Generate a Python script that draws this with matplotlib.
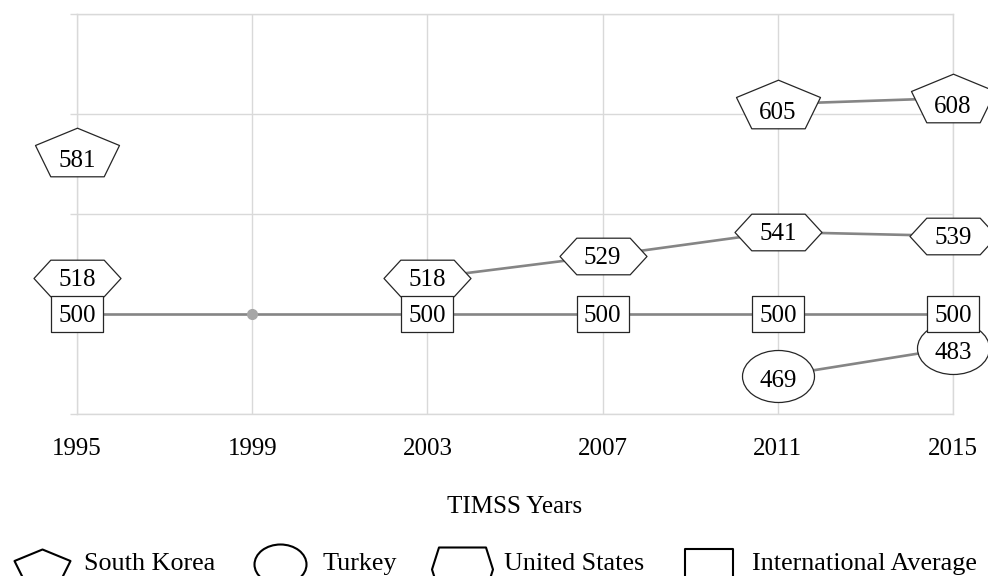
import numpy as np
import matplotlib
matplotlib.use('Agg')
import matplotlib.pyplot as plt
from matplotlib.path import Path
from matplotlib.lines import Line2D

plt.rcParams['font.family'] = ['Liberation Serif', 'DejaVu Serif']

# Data
years = ['1995', '1999', '2003', '2007', '2011', '2015']
south_korea = [581, np.nan, np.nan, np.nan, 605, 608]
turkey = [np.nan, np.nan, np.nan, np.nan, 469, 483]
united_states = [518, np.nan, 518, 529, 541, 539]
intl_average = [500, 500, 500, 500, 500, 500]
intl_boxed = [True, False, True, True, True, True]   # 1999 has only a dot

GRID = '#d9d9d9'
LINE = '#858585'
FS = 18
px = 0.72  # points per pixel at dpi 100


# Marker shapes, in pixels
def poly(pts, dy=0):
    pts = [(a, b + dy) for a, b in pts]
    pts = pts + [pts[0]]
    codes = [Path.MOVETO] + [Path.LINETO] * (len(pts) - 2) + [Path.CLOSEPOLY]
    return Path(pts, codes)


def ellipse(w, h, dy=0):
    c = Path.unit_circle()
    return Path(c.vertices * [w / 2, h / 2] + [0, dy], c.codes)


def size_of(path):
    # custom markers are scaled so the largest |coordinate| spans markersize/2
    return 2 * np.max(np.abs(path.vertices)) * px


pentagon = poly([(0, 24.3), (42, 7), (26.7, -24.3), (-26.7, -24.3), (-42, 7)])
hexagon = poly([(-26.7, 18.3), (26.7, 18.3), (43.5, 0), (26.7, -18.3), (-26.7, -18.3), (-43.5, 0)])
rect = poly([(-26.5, 18.3), (26.5, 18.3), (26.5, -18.3), (-26.5, -18.3)])
oval = ellipse(72, 52)

leg_pentagon = poly([(0, 16), (28, 4.5), (17.8, -16), (-17.8, -16), (-28, 4.5)], dy=-4)
leg_oval = ellipse(52, 40, dy=-3)
leg_hexagon = poly([(-23.5, 22), (23.5, 22), (30.5, 0), (23.5, -22), (-23.5, -22), (-30.5, 0)], dy=-8)
leg_square = poly([(-24.5, 24.5), (24.5, 24.5), (24.5, -24.5), (-24.5, -24.5)], dy=-12)

fig = plt.figure(figsize=(9.88, 5.76), dpi=100)
ax = fig.add_axes([77 / 988, 1 - 414 / 576, 876 / 988, 400 / 576])

x = np.arange(len(years))

series = [
    (south_korea, pentagon, -5),
    (turkey, oval, -2),
    (united_states, hexagon, 0),
    (intl_average, rect, 0),
]

# connecting lines first
for vals, _, _ in series:
    ax.plot(x, vals, color=LINE, lw=1.9, zorder=2, solid_capstyle='butt')

# 1999 international average point (no box)
ia = np.array(intl_average, dtype=float)
dot = ~np.array(intl_boxed)
ax.plot(x[dot], ia[dot], 'o', color='#a6a6a6', ms=7, zorder=3)

z = 4
for vals, mk, dy in series:
    v = np.array(vals, dtype=float)
    mask = ~np.isnan(v)
    if vals is intl_average:
        mask &= np.array(intl_boxed)
    ax.plot(x[mask], v[mask], linestyle='none', marker=mk, markersize=size_of(mk),
            mfc='white', mec='#262626', mew=0.9, zorder=z, clip_on=False)
    for xi, vi in zip(x[mask], v[mask]):
        ax.annotate(f'{vi:.0f}', (xi, vi), xytext=(0, dy), textcoords='offset points',
                    ha='center', va='center_baseline', fontsize=FS, color='black',
                    zorder=z + 0.5, annotation_clip=False)
    z += 1

ax.set_xlim(0, len(years) - 1)
ax.set_ylim(450, 650)
ax.set_xticks(x)
ax.set_xticklabels(years, fontsize=FS)
ax.set_yticks([450, 500, 550, 600, 650])
ax.set_yticklabels([])
ax.tick_params(axis='x', length=0, pad=17)
ax.tick_params(axis='y', length=5, color=GRID, width=1)
ax.grid(True, color=GRID, lw=1)
ax.set_axisbelow(True)
for s in ax.spines.values():
    s.set_color(GRID)
    s.set_linewidth(1)
ax.set_xlabel('TIMSS Years', fontsize=FS, labelpad=26)

handles = [Line2D([], [], ls='none', marker=m, ms=size_of(m), mfc='white', mec='black', mew=1.5)
           for m in (leg_pentagon, leg_oval, leg_hexagon, leg_square)]
labels = ['South Korea', 'Turkey', 'United States', 'International Average']
fig.legend(handles, labels, loc='center left', bbox_to_anchor=(10 / 988, 13 / 576),
           ncol=4, frameon=False, fontsize=18.8, handlelength=2.45, handletextpad=0.4,
           columnspacing=1.25, borderpad=0, borderaxespad=0)

fig.savefig('out.png', dpi=100)
